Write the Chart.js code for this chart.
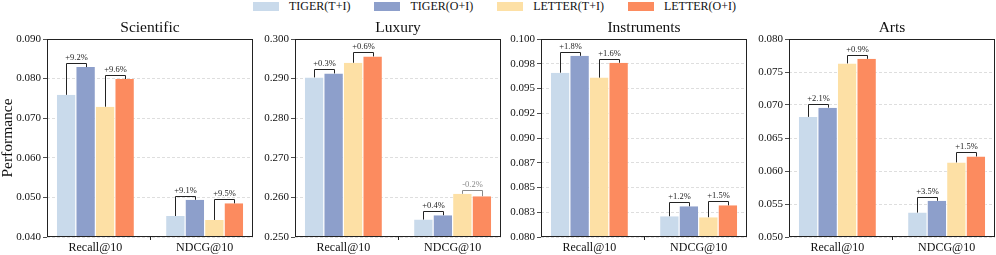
<!DOCTYPE html>
<html>
<head>
<meta charset="utf-8">
<script src="https://cdn.jsdelivr.net/npm/chart.js@4.4.1/dist/chart.umd.min.js"></script>
<style>
  body { margin: 0; background: #fff; }
  #tela { position: relative; width: 996px; height: 255px; overflow: hidden; }
  .painel { position: absolute; top: 0; width: 255px; height: 255px; }
  #legenda { position: absolute; top: 0; left: 253px; display: flex; align-items: center; height: 12px;
    font-family: "Liberation Serif", serif; font-size: 12px; color: #111; white-space: nowrap; }
  #legenda .caixa { width: 26px; height: 9px; margin-right: 10px; }
  #legenda .nome { margin-right: 24px; line-height: 12px; }
</style>
</head>
<body>
<div id="tela">
  <div id="legenda"></div>
  <div class="painel" style="left:0px"><canvas id="g0"></canvas></div>
  <div class="painel" style="left:248px"><canvas id="g1"></canvas></div>
  <div class="painel" style="left:494px"><canvas id="g2"></canvas></div>
  <div class="painel" style="left:742px"><canvas id="g3"></canvas></div>
</div>
<script>
// dados
const categorias = ["Recall@10", "NDCG@10"];
const series = ["TIGER(T+I)", "TIGER(O+I)", "LETTER(T+I)", "LETTER(O+I)"];
const cores = ["#c9daeb", "#8d9fcb", "#fde0a5", "#fc8b5f"];
const titulos = ["Scientific", "Luxury", "Instruments", "Arts"];

// valores por serie: [Recall@10, NDCG@10]
const scientificValores = [[0.0759, 0.0453], [0.0829, 0.0494], [0.0729, 0.0443], [0.0799, 0.0485]];
const luxuryValores = [[0.2903, 0.2544], [0.2913, 0.2555], [0.2940, 0.2609], [0.2956, 0.2603]];
const instrumentsValores = [[0.0966, 0.0821], [0.0983, 0.0831], [0.0961, 0.0820], [0.0976, 0.0832]];
const artsValores = [[0.0682, 0.0537], [0.0696, 0.0555], [0.0763, 0.0613], [0.0770, 0.0622]];

// ganhos: [recall par1, recall par2, ndcg par1, ndcg par2]
const scientificGanhos = ["+9.2%", "+9.6%", "+9.1%", "+9.5%"];
const luxuryGanhos = ["+0.3%", "+0.6%", "+0.4%", "-0.2%"];
const instrumentsGanhos = ["+1.8%", "+1.6%", "+1.2%", "+1.5%"];
const artsGanhos = ["+2.1%", "+0.9%", "+3.5%", "+1.5%"];

const scientificTicks = ["0.040", "0.050", "0.060", "0.070", "0.080", "0.090"];
const luxuryTicks = ["0.250", "0.260", "0.270", "0.280", "0.290", "0.300"];
const instrumentsTicks = ["0.080", "0.083", "0.085", "0.087", "0.090", "0.092", "0.095", "0.098", "0.100"];
const artsTicks = ["0.050", "0.055", "0.060", "0.065", "0.070", "0.075", "0.080"];

const faixas = [[0.040, 0.090, 0.01], [0.250, 0.300, 0.01], [0.080, 0.100, 0.0025], [0.050, 0.080, 0.005]];

const valores = [scientificValores, luxuryValores, instrumentsValores, artsValores];
const ganhos = [scientificGanhos, luxuryGanhos, instrumentsGanhos, artsGanhos];
const rotulosTicks = [scientificTicks, luxuryTicks, instrumentsTicks, artsTicks];

const fonte = "'Liberation Serif', 'Times New Roman', serif";

// largura do grupo de barras (em unidades do eixo x) e margem como no matplotlib
const larguraGrupo = 0.714;
const margemX = larguraGrupo / 2 + 0.05 * (1 + larguraGrupo);

// legenda
const legenda = document.getElementById("legenda");
series.forEach(function (nome, i) {
    let caixa = document.createElement("div");
    caixa.className = "caixa";
    caixa.style.background = cores[i];
    let texto = document.createElement("span");
    texto.className = "nome";
    texto.innerText = nome;
    legenda.appendChild(caixa);
    legenda.appendChild(texto);
});

const moldura = {
    id: "moldura",
    afterDraw: function (chart) {
        const a = chart.chartArea;
        const ctx = chart.ctx;
        ctx.save();
        ctx.strokeStyle = "#222";
        ctx.lineWidth = 1;
        ctx.strokeRect(Math.round(a.left) + 0.5, Math.round(a.top) + 0.5,
            Math.round(a.right - a.left) - 1, Math.round(a.bottom - a.top) - 1);
        ctx.restore();
    }
};

const colchetes = {
    id: "colchetes",
    afterDatasetsDraw: function (chart) {
        const ctx = chart.ctx;
        const textos = chart.options.plugins.colchetes.textos;
        const pares = [[0, 1], [2, 3]];
        ctx.save();
        ctx.lineWidth = 1;
        ctx.font = "8.5px " + fonte;
        ctx.textAlign = "center";
        ctx.textBaseline = "alphabetic";
        for (let j = 0; j < categorias.length; j++) {
            pares.forEach(function (par, k) {
                const ea = chart.getDatasetMeta(par[0]).data[j];
                const eb = chart.getDatasetMeta(par[1]).data[j];
                const topo = Math.round(Math.min(ea.y, eb.y) - 4) + 0.5;
                const xa = Math.round(ea.x) + 0.5;
                const xb = Math.round(eb.x) + 0.5;
                const txt = textos[j * 2 + k];
                const cor = txt.charAt(0) === "-" ? "#8a8a8a" : "#222";
                ctx.strokeStyle = cor;
                ctx.beginPath();
                ctx.moveTo(xa, ea.y);
                ctx.lineTo(xa, topo);
                ctx.lineTo(xb, topo);
                ctx.lineTo(xb, eb.y);
                ctx.stroke();
                ctx.fillStyle = cor;
                ctx.fillText(txt, (xa + xb) / 2, topo - 4);
            });
        }
        ctx.restore();
    }
};

function desenharPainel(i) {
    const ctx = document.getElementById("g" + i);
    const faixa = faixas[i];
    const ticks = rotulosTicks[i];

    new Chart(ctx, {
        type: "bar",
        data: {
            datasets: series.map(function (nome, s) {
                return {
                    label: nome,
                    data: valores[i][s].map(function (v, j) { return { x: j, y: v }; }),
                    backgroundColor: cores[s],
                    borderColor: "#ffffff",
                    borderWidth: { left: 0.6, right: 0.6, top: 0, bottom: 0 },
                    categoryPercentage: larguraGrupo,
                    barPercentage: 1.0
                };
            })
        },
        options: {
            responsive: false,
            animation: false,
            devicePixelRatio: 1,
            layout: { padding: { left: 0, right: 2, top: 0, bottom: 0 } },
            plugins: {
                legend: { display: false },
                tooltip: { enabled: false },
                title: {
                    display: true,
                    fullSize: false,
                    text: titulos[i],
                    color: "#111",
                    font: { family: fonte, size: 15.5, weight: "normal", lineHeight: 1.2 },
                    padding: { top: 19, bottom: 1.4 }
                },
                colchetes: { textos: ganhos[i] }
            },
            scales: {
                x: {
                    type: "linear",
                    offset: false,
                    min: -margemX,
                    max: 1 + margemX,
                    afterBuildTicks: function (escala) {
                        escala.ticks = categorias.map(function (c, j) { return { value: j }; });
                    },
                    grid: { display: true, drawOnChartArea: false, tickLength: 3, tickColor: "#222" },
                    border: { display: false },
                    ticks: {
                        color: "#111",
                        padding: 1,
                        font: { family: fonte, size: 12 },
                        callback: function (valor, indice) { return categorias[indice]; }
                    },
                    afterFit: function (escala) { escala.height = 18; }
                },
                y: {
                    min: faixa[0],
                    max: faixa[1],
                    grid: {
                        color: "#d6d6d6",
                        lineWidth: 0.8,
                        tickLength: 4,
                        tickColor: "#222",
                        tickBorderDash: []
                    },
                    border: { display: false, dash: [3, 2] },
                    ticks: {
                        stepSize: faixa[2],
                        color: "#111",
                        padding: 2,
                        font: { family: fonte, size: 11 },
                        callback: function (valor, indice) {
                            return ticks[indice];
                        }
                    },
                    title: {
                        display: i === 0,
                        text: "Performance",
                        color: "#111",
                        font: { family: fonte, size: 15.5, lineHeight: 1.0 },
                        padding: { top: 0.5, bottom: 0 }
                    },
                    afterFit: function (escala) { escala.width = 47; }
                }
            }
        },
        plugins: [moldura, colchetes]
    });
}

for (let i = 0; i < 4; i++) {
    const c = document.getElementById("g" + i);
    c.width = 255;
    c.height = 255;
    desenharPainel(i);
}
</script>
</body>
</html>
